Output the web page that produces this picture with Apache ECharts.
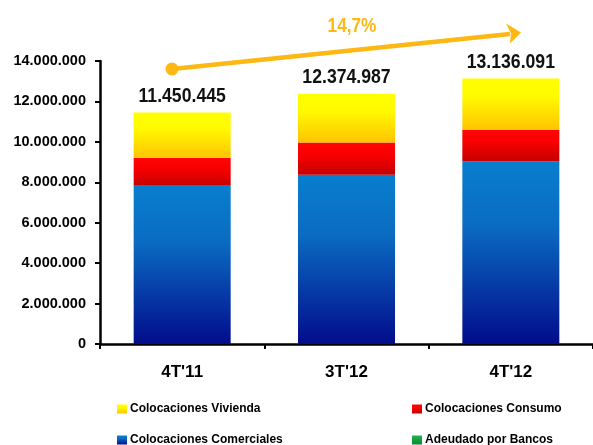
<!DOCTYPE html>
<html>
<head>
<meta charset="utf-8">
<script src="https://cdn.jsdelivr.net/npm/echarts@6/dist/echarts.min.js"></script>
<style>
  html, body { margin: 0; padding: 0; background: #fff; }
  #chart { width: 593px; height: 445px; }
</style>
</head>
<body>
<div id="chart"></div>
<script>
// Loan portfolio by product (CLP thousands)
const categories = ["4T'11", "3T'12", "4T'12"];
const comerciales = [7830000, 8370000, 9030000];
const consumo = [1380000, 1600000, 1560000];
const vivienda = [2240445, 2404987, 2546091];
const adeudado = [0, 0, 0];
const yTicks = { min: 0, max: 14000000, interval: 2000000 };
const growthLabel = '14,7%';

const SANS = '"Liberation Sans", Arial, sans-serif';
const ORANGE = '#FDB813';

function fmt(v) {
  return String(Math.round(v)).replace(/\B(?=(\d{3})+(?!\d))/g, '.');
}

const totals = categories.map((_, i) => comerciales[i] + consumo[i] + vivienda[i] + adeudado[i]);

function grad(stops) {
  return new echarts.graphic.LinearGradient(0, 0, 0, 1,
    stops.map(s => ({ offset: s[0], color: s[1] })));
}

const blueFill = grad([[0, '#087ECF'], [0.35, '#0A6CC2'], [1, '#030C8C']]);
const redFill = grad([[0, '#FF0505'], [0.4, '#F80000'], [1, '#C50000']]);
const yellowFill = grad([[0, '#FFFF00'], [0.35, '#FFFA00'], [1, '#FFC400']]);
const greenFill = grad([[0, '#22B24A'], [1, '#0A8A36']]);

const chart = echarts.init(document.getElementById('chart'), null, { renderer: 'canvas' });

const legendBase = {
  orient: 'horizontal',
  padding: 0,
  itemWidth: 10,
  itemHeight: 9,
  icon: 'rect',
  selectedMode: false,
  textStyle: { fontFamily: SANS, fontWeight: 'bold', fontSize: 12, color: '#000', padding: [0, 0, 0, -2] }
};

const barW = 97;

chart.setOption({
  animation: false,
  grid: { left: 100, right: -3, top: 61, bottom: 101, containLabel: false },
  legend: [
    Object.assign({}, legendBase, { data: ['Colocaciones Vivienda'], left: 117, top: 403 }),
    Object.assign({}, legendBase, { data: ['Colocaciones Consumo'], left: 412, top: 403 }),
    Object.assign({}, legendBase, { data: ['Colocaciones Comerciales'], left: 117, top: 434 }),
    Object.assign({}, legendBase, { data: ['Adeudado por Bancos'], left: 412, top: 434 })
  ],
  xAxis: {
    type: 'category',
    data: categories,
    axisLine: { lineStyle: { color: '#000', width: 2.5 } },
    axisTick: { show: true, inside: false, length: 5, lineStyle: { color: '#000', width: 2 } },
    axisLabel: { margin: 20, color: '#000', fontFamily: SANS, fontWeight: 'bold', fontSize: 17 }
  },
  yAxis: {
    type: 'value',
    min: yTicks.min,
    max: yTicks.max,
    interval: yTicks.interval,
    splitLine: { show: false },
    axisLine: { show: true, lineStyle: { color: '#000', width: 2.5 } },
    axisTick: { show: true, inside: false, length: 5, lineStyle: { color: '#000', width: 2 } },
    axisLabel: { margin: 14, color: '#000', fontFamily: SANS, fontWeight: 'bold', fontSize: 14.5, formatter: v => fmt(v) }
  },
  series: [
    { name: 'Adeudado por Bancos', type: 'bar', stack: 'total', barWidth: barW, data: adeudado,
      itemStyle: { color: greenFill } },
    { name: 'Colocaciones Comerciales', type: 'bar', stack: 'total', barWidth: barW, data: comerciales,
      itemStyle: { color: blueFill } },
    { name: 'Colocaciones Consumo', type: 'bar', stack: 'total', barWidth: barW, data: consumo,
      itemStyle: { color: redFill } },
    { name: 'Colocaciones Vivienda', type: 'bar', stack: 'total', barWidth: barW, data: vivienda,
      itemStyle: { color: yellowFill } }
  ]
});

// Stack totals above each bar, in a condensed bold face, positioned through the axes
const totalLabels = categories.map((c, i) => {
  const p = chart.convertToPixel({ xAxisIndex: 0, yAxisIndex: 0 }, [i, totals[i]]);
  return {
    type: 'text', x: p[0], y: p[1] - 16.5, scaleX: 0.84, z: 10,
    style: { text: fmt(totals[i]), fill: '#111', font: 'bold 21px ' + SANS, align: 'center', verticalAlign: 'middle' }
  };
});

// Growth arrow between first and last period
chart.setOption({
  graphic: [
    { type: 'line', shape: { x1: 172, y1: 69, x2: 510, y2: 34 },
      style: { stroke: ORANGE, lineWidth: 4.5 } },
    { type: 'circle', shape: { cx: 172, cy: 69, r: 6.5 }, style: { fill: ORANGE } },
    { type: 'polygon', shape: { points: [[521, 32.5], [506, 23.5], [511, 33.3], [510, 43.5]] },
      style: { fill: ORANGE } },
    { type: 'text', x: 352, y: 26, scaleX: 0.86,
      style: { text: growthLabel, fill: ORANGE, font: 'bold 20px ' + SANS, align: 'center', verticalAlign: 'middle' } }
  ].concat(totalLabels)
});
</script>
</body>
</html>
